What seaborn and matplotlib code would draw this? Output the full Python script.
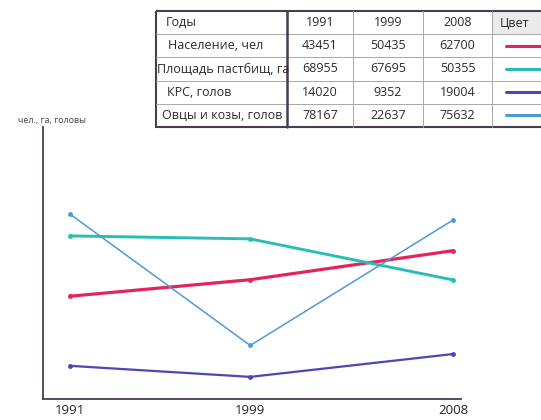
import pandas as pd
import numpy as np
import matplotlib
matplotlib.use("Agg")
import matplotlib.pyplot as plt
import seaborn as sns

# данные из таблицы
years = [1991, 1999, 2008]
series_names = ["Население, чел", "Площадь пастбищ, га", "КРС, голов", "Овцы и козы, голов"]
population = [43451, 50435, 62700]
pasture = [68955, 67695, 50355]
cattle = [14020, 9352, 19004]
sheep_goats = [78167, 22637, 75632]
header_first = "Годы"
header_colour = "Цвет"
y_label = "чел., га, головы"

colours = ["#e5245c", "#2abdb6", "#4848b6", "#4b9bd5"]
widths = [2.3, 2.1, 1.6, 1.1]
dark = "#4a3c52"

sns.set_style("white")
plt.rcParams["font.family"] = ["Open Sans", "DejaVu Sans"]

values = [population, pasture, cattle, sheep_goats]
df = pd.DataFrame({
    "series": np.repeat(series_names, len(years)),
    "year": years * len(series_names),
    "value": np.concatenate(values),
})

fig = plt.figure(figsize=(5.41, 4.2), dpi=100)
ax = fig.add_axes([43 / 541, 1 - 399 / 420, (461 - 43) / 541, (399 - 127) / 420])

for name, c, w in zip(series_names, colours, widths):
    sns.lineplot(data=df[df["series"] == name], x="year", y="value", color=c,
                 linewidth=w, marker="o", markersize=3.5, markeredgewidth=0, ax=ax)

ax.set_xlim(1989.8, 2008.36)
ax.set_ylim(0, 115000)
ax.set_xticks(years)
ax.set_yticks([])
ax.set_xlabel("")
ax.set_ylabel("")
for s in ["top", "right"]:
    ax.spines[s].set_visible(False)
for s in ["left", "bottom"]:
    ax.spines[s].set_color(dark)
    ax.spines[s].set_linewidth(1.3)
ax.tick_params(axis="x", direction="out", length=3, width=0.8, color=dark,
               labelsize=9.5, labelcolor="#222222", pad=0.5)
ax.patch.set_alpha(0)

fig.text(18 / 541, 1 - 121 / 420, y_label, fontsize=6.5, color="#444444", va="center")

# таблица сверху
tab = fig.add_axes([0, 0, 1, 1], zorder=3)
tab.set_xlim(0, 541)
tab.set_ylim(420, 0)
tab.axis("off")
tab.patch.set_alpha(0)

col_edges = [156, 287, 353, 423, 492, 560]
row_edges = np.linspace(11, 127, 6)
tab.add_patch(plt.Rectangle((col_edges[4], row_edges[0]), col_edges[5] - col_edges[4],
                            row_edges[1] - row_edges[0], facecolor="#ebebeb", edgecolor="none"))
for y in row_edges[1:-1]:
    tab.plot([col_edges[0], col_edges[-1]], [y, y], color="#a8a8a8", lw=0.7)
for x in col_edges[2:5]:
    tab.plot([x, x], [row_edges[0], row_edges[-1]], color="#a8a8a8", lw=0.7)
tab.plot([col_edges[1], col_edges[1]], [row_edges[0], row_edges[-1]], color=dark, lw=1.8)
tab.add_patch(plt.Rectangle((col_edges[0], row_edges[0]), col_edges[-1] - col_edges[0],
                            row_edges[-1] - row_edges[0], facecolor="none", edgecolor=dark, lw=1.5))

centres = [(col_edges[i] + col_edges[i + 1]) / 2 for i in range(len(col_edges) - 1)]
rc = [(row_edges[i] + row_edges[i + 1]) / 2 for i in range(5)]
fs = 9
tc = "#2a2a2a"
tab.text(166, rc[0], header_first, fontsize=fs, color=tc, va="center")
for j, yr in enumerate(years):
    tab.text(centres[j + 1], rc[0], str(yr), fontsize=fs, color=tc, ha="center", va="center")
tab.text(500, rc[0], header_colour, fontsize=fs, color=tc, va="center")

label_x = [168, 157, 167, 162]
for i, name in enumerate(series_names):
    tab.text(label_x[i], rc[i + 1], name, fontsize=fs, color=tc, va="center")
    for j in range(len(years)):
        tab.text(centres[j + 1], rc[i + 1], str(values[i][j]), fontsize=fs, color=tc,
                 ha="center", va="center")
    tab.plot([506, 560], [rc[i + 1], rc[i + 1]], color=colours[i], lw=2.2)

fig.savefig("out.png", dpi=100)
